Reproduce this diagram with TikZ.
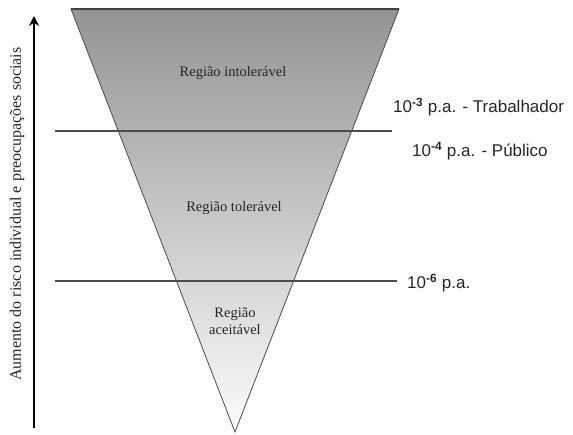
\documentclass[tikz,border=0pt]{standalone}
\usepackage{fontspec}
\usetikzlibrary{arrows.meta}
\setmainfont{Liberation Serif}
\newfontfamily\labelfont{Liberation Sans}
\begin{document}
\begin{tikzpicture}[x=1pt, y=-1pt, >=stealth]
      \tikzset{region/.style={font=\fontsize{14.5}{17}\selectfont, align=center, text=black!85},
               level/.style={font=\labelfont\fontsize{17}{19}\selectfont, anchor=west, text=black!85},
               limit/.style={draw=black!70, line width=1.4pt}}
      \useasboundingbox (0,0) rectangle (573,434);

      % triangle of risk
      \coordinate (tl) at (71,9);
      \coordinate (tr) at (399,9);
      \coordinate (apex) at (235,432);
      \shade[top color={rgb,255:red,148;green,148;blue,148}, bottom color={rgb,255:red,252;green,252;blue,252}]
        (tl) -- (tr) -- (apex) -- cycle;
      \draw[black!70, line width=0.8pt] (tl) -- (tr) -- (apex) -- cycle;
      \draw[black!75, line width=1.4pt] (tl) -- (tr);

      % limits
      \coordinate (l3a) at (55,131);
      \coordinate (l3b) at (392,131);
      \coordinate (l6a) at (55,281);
      \coordinate (l6b) at (397,281);
      \draw[limit] (l3a) -- (l3b);
      \draw[limit] (l6a) -- (l6b);

      \node[region] (intol) at (233,73) {Região intolerável};
      \node[region] (tol) at (234,208) {Região tolerável};
      \node[region] (aceit) at (235,321) {Região\\aceitável};

      \node[level, inner sep=0pt] (trab) at (393,107) {10\textsuperscript{\textbf{-3}} p.a. - Trabalhador};
      \node[level, inner sep=0pt] (publ) at (412,151) {10\textsuperscript{\textbf{-4}} p.a. - Público};
      \node[level, inner sep=0pt] (pa6) at (407,283) {10\textsuperscript{\textbf{-6}} p.a.};

      % axis
      \coordinate (axlo) at (34,428);
      \coordinate (axhi) at (34,16);
      \draw[->, line width=1.6pt, >={Stealth[length=10pt, width=10pt]}] (axlo) -- (axhi);
      \node[rotate=90, font=\fontsize{16}{18}\selectfont, text=black!85] (axis) at (17,214)
        {Aumento do risco individual e preocupações sociais};
\end{tikzpicture}
\end{document}
